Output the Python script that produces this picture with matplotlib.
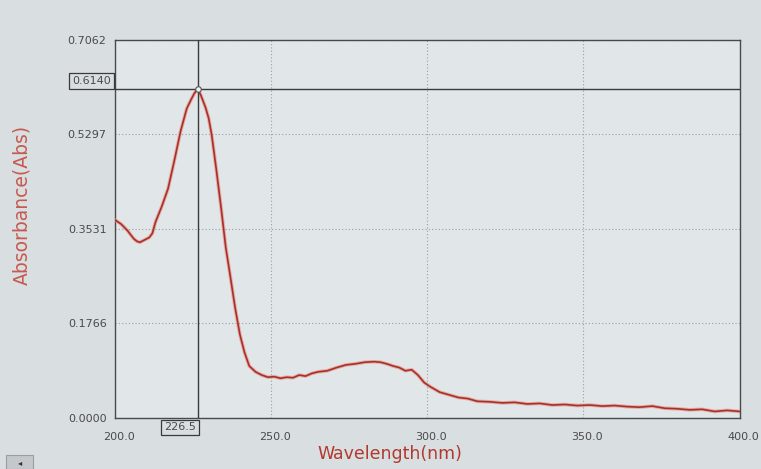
import matplotlib.pyplot as plt
import matplotlib.patches as mpatches
import matplotlib.transforms as mtrans

# UV-Vis absorbance spectrum
wavelength = [200, 202, 204, 206, 207, 208, 210, 211, 212, 213, 215, 217, 219, 221, 223,
              224.5, 225.5, 226.5, 227.5, 229, 230, 231, 232.5, 234, 235.5, 237, 238.5,
              240, 241.5, 243, 245, 247, 249, 251, 253, 255, 257, 259, 261, 263, 265,
              268, 271, 274, 277, 280, 283, 285, 287, 289, 291, 293, 295, 297, 299, 301,
              304, 307, 310, 313, 316, 320, 324, 328, 332, 336, 340, 344, 348, 352, 356,
              360, 364, 368, 372, 376, 380, 384, 388, 392, 396, 400]
absorbance = [0.370, 0.362, 0.350, 0.335, 0.330, 0.328, 0.334, 0.337, 0.345, 0.366, 0.395,
              0.428, 0.480, 0.535, 0.578, 0.596, 0.607, 0.614, 0.603, 0.580, 0.560, 0.528,
              0.462, 0.392, 0.318, 0.262, 0.205, 0.156, 0.122, 0.097, 0.086, 0.080, 0.076,
              0.077, 0.074, 0.076, 0.075, 0.080, 0.078, 0.083, 0.086, 0.088, 0.094, 0.099,
              0.101, 0.104, 0.105, 0.104, 0.101, 0.097, 0.094, 0.088, 0.090, 0.080, 0.066,
              0.058, 0.048, 0.043, 0.038, 0.036, 0.031, 0.030, 0.028, 0.029, 0.026, 0.027,
              0.024, 0.025, 0.023, 0.024, 0.022, 0.023, 0.021, 0.020, 0.022, 0.018, 0.017,
              0.015, 0.016, 0.012, 0.014, 0.012]

x_ticks = [200.0, 250.0, 300.0, 350.0, 400.0]
y_ticks = [0.0, 0.1766, 0.3531, 0.5297, 0.7062]
peak_x, peak_y = 226.5, 0.6140

red = "#b03a30"
grey_txt = "#4a4a4a"

fig = plt.figure(figsize=(7.61, 4.69), dpi=100)
fig.patch.set_facecolor("#d9dee1")
ax = fig.add_axes([0.151, 0.109, 0.821, 0.806])
ax.set_facecolor("#e1e6e9")

# curve: soft halo + dark core, like the screen photo
ax.plot(wavelength, absorbance, color="#e8887a", lw=2.6, alpha=0.6, zorder=3)
ax.plot(wavelength, absorbance, color="#a8302a", lw=1.2, zorder=4)

# cursor lines at the peak
ax.axhline(peak_y, color="#3a3a3a", lw=1.0, zorder=5)
ax.axvline(peak_x, color="#3a3a3a", lw=1.0, zorder=5)
ax.plot([peak_x], [peak_y], "o", ms=4, mfc="#f0f0f0", mec="#555555", mew=0.8, zorder=6)

ax.set_xlim(200, 400)
ax.set_ylim(0, 0.7062)
ax.set_xticks(x_ticks)
ax.set_yticks(y_ticks)
ax.set_xticklabels([f"{v:.1f}" for v in x_ticks])
ax.set_yticklabels([f"{v:.4f}" for v in y_ticks])
ax.tick_params(length=0, labelsize=8, colors=grey_txt)
ax.tick_params(axis="x", pad=10)
ax.tick_params(axis="y", pad=6)
shift = mtrans.ScaledTranslation(4 / 100, 0, fig.dpi_scale_trans)
for lab in ax.get_xticklabels():
    lab.set_transform(lab.get_transform() + shift)

ax.grid(True, color="#9aa0a4", linestyle=(0, (1, 2)), lw=0.8)
for s in ax.spines.values():
    s.set_color("#4a4a4a")
    s.set_linewidth(1.0)

ax.set_xlabel("Wavelength(nm)", color=red, fontsize=12.5)
ax.set_ylabel("Absorbance(Abs)", color="#c65a50", fontsize=13.5)
ax.xaxis.set_label_coords(0.44, -0.071)
ax.yaxis.set_label_coords(-0.133, 0.563)

# boxed cursor values
ax.text(-0.006, peak_y + 0.006, "0.6140", transform=ax.get_yaxis_transform(),
        ha="right", va="bottom", fontsize=8, color=grey_txt,
        bbox=dict(boxstyle="square,pad=0.3", fc="none", ec="#3a3a3a", lw=0.9),
        clip_on=False)
ax.text(peak_x - 0.6, -0.012, "226.5", transform=ax.get_xaxis_transform(),
        ha="right", va="top", fontsize=8, color=grey_txt,
        bbox=dict(boxstyle="square,pad=0.25", fc="none", ec="#3a3a3a", lw=0.9),
        clip_on=False)

# small scroll button in the lower left corner of the screen
fig.patches.append(mpatches.Rectangle((0.008, 0.0), 0.036, 0.03, transform=fig.transFigure,
                                      fc="#c4c8cc", ec="#9a9ea2", lw=0.8))
fig.text(0.026, 0.013, "\u25c2", ha="center", va="center", fontsize=6, color="#333333")

fig.savefig("out.png", dpi=100, facecolor=fig.get_facecolor())
